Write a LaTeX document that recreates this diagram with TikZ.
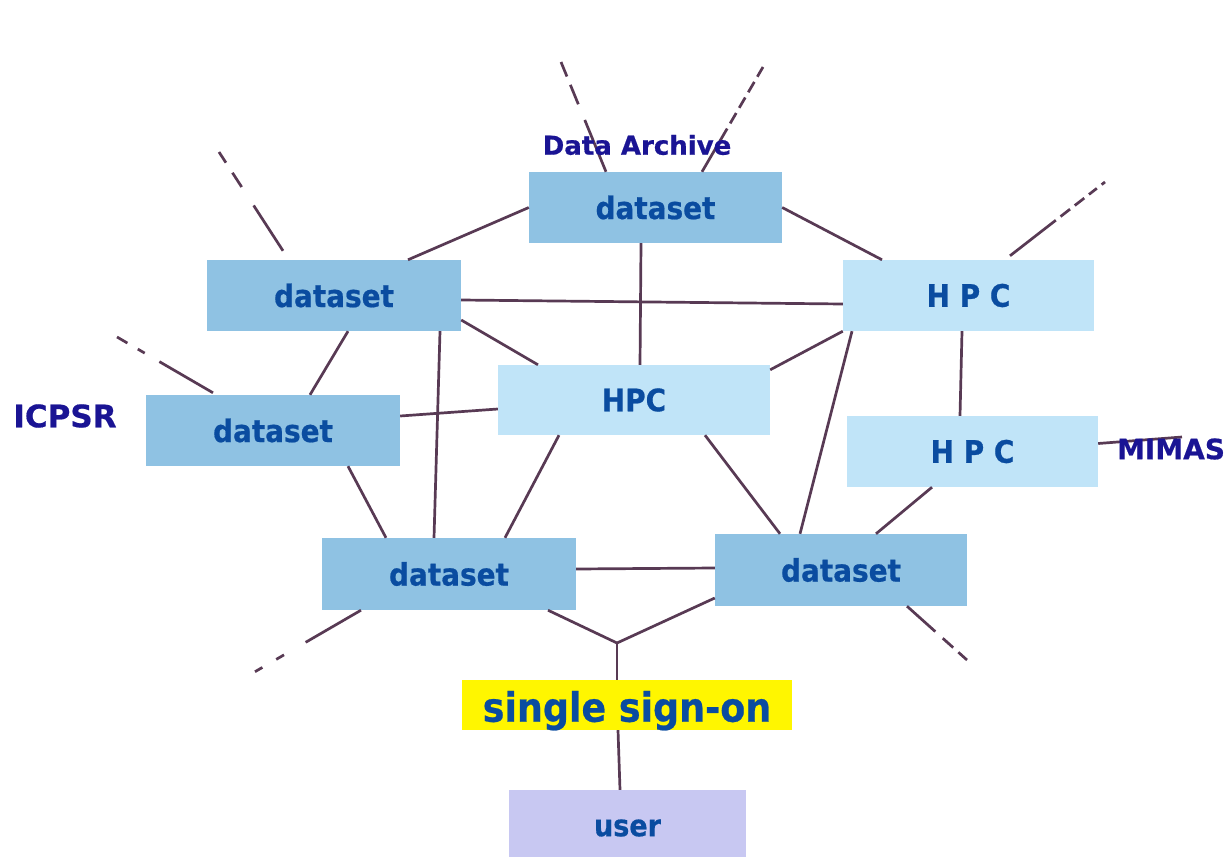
\documentclass[tikz,border=0pt]{standalone}
\usepackage{fontspec}
\newfontfamily\boxfont{DejaVu Sans}[FakeStretch=0.9, FakeBold=0.6]
\newfontfamily\lblfont{DejaVu Sans}[FakeBold=0.6]
\usepackage{tikz}

\definecolor{dsblue}{RGB}{143,194,227}
\definecolor{hpcblue}{RGB}{192,228,248}
\definecolor{txtblue}{RGB}{10,76,160}
\definecolor{navy}{RGB}{26,20,148}
\definecolor{ssoyellow}{RGB}{255,246,0}
\definecolor{userlilac}{RGB}{200,200,242}
\definecolor{linkcol}{RGB}{88,58,84}

\begin{document}
\begin{tikzpicture}[
    x=1pt, y=-1pt,
    box/.style={rectangle, inner sep=0pt, minimum height=71pt, text=txtblue, font=\boxfont\bfseries\fontsize{31}{31}\selectfont},
    dset/.style={box, fill=dsblue, minimum width=254pt},
    hpc/.style={box, fill=hpcblue, minimum width=251pt},
    lbl/.style={inner sep=0pt, text=navy, font=\lblfont\bfseries\fontsize{26}{26}\selectfont},
    link/.style={draw=linkcol, line width=2.7pt},
    stub/.style={link, dash pattern=#1}
]
\useasboundingbox (0,0) rectangle (1225,856);
\fill[white] (0,0) rectangle (1225,856);

% boxes
\node[dset, minimum width=253pt] (DA) at (655.5,207.5) {dataset};
\node[dset] (D1) at (334,295.5) {dataset};
\node[hpc] (H1) at (968.5,295.5) {H P C};
\node[hpc, minimum width=272pt, minimum height=70pt] (H0) at (634,400) {HPC};
\node[dset] (D2) at (273,430.5) {dataset};
\node[hpc] (H2) at (972.5,451.5) {H P C};
\node[dset, minimum height=72pt] (D3) at (449,574) {dataset};
\node[dset, minimum width=252pt, minimum height=72pt] (D4) at (841,570) {dataset};
\node[box, fill=ssoyellow, minimum width=330pt, minimum height=50pt, text height=41.7pt, text depth=8.3pt,
      font=\boxfont\bfseries\fontsize{40.5}{40.5}\selectfont] (SSO) at (627,705) {single sign-on};
\node[box, fill=userlilac, minimum width=237pt, minimum height=76pt,
      font=\boxfont\bfseries\fontsize{30}{30}\selectfont] (U) at (627.5,828) {user};

% loose ends
\coordinate (J) at (617,643);
\coordinate (e1) at (561,62);
\coordinate (e2) at (763,67);
\coordinate (e3) at (219,152);
\coordinate (e4) at (1105,182);
\coordinate (e5) at (117,337);
\coordinate (e6) at (1182,437);
\coordinate (e7) at (255,671.7);
\coordinate (e8) at (967,660);

% links
\draw[link] (DA.west) -- ([xshift=74pt]D1.north);
\draw[link] (DA.east) -- ([xshift=-86.5pt]H1.north);
\draw[link] ([xshift=-14.5pt]DA.south) -- ([xshift=6pt]H0.north);
\draw[link] ([yshift=-4.5pt]D1.east) -- ([yshift=-8.5pt]H1.west);
\draw[link] ([yshift=-24.5pt]D1.east) -- ([xshift=-96pt]H0.north);
\draw[link] ([xshift=14pt]D1.south) -- ([xshift=37pt]D2.north);
\draw[link] ([xshift=106pt]D1.south) -- ([xshift=-15pt]D3.north);
\draw[link] (H1.south west) -- ([yshift=-5pt]H0.north east);
\draw[link] ([xshift=-6.5pt]H1.south) -- ([xshift=-12.5pt]H2.north);
\draw[link] ([xshift=-116.5pt]H1.south) -- ([xshift=-41pt]D4.north);
\draw[link] ([yshift=14.5pt]D2.east) -- ([yshift=-9pt]H0.west);
\draw[link] ([xshift=75pt]D2.south) -- ([xshift=-63pt]D3.north);
\draw[link] ([xshift=-75pt]H0.south) -- ([xshift=56pt]D3.north);
\draw[link] ([xshift=71pt]H0.south) -- ([xshift=-61pt]D4.north);
\draw[link] ([xshift=-40.5pt]H2.south) -- ([xshift=35pt]D4.north);
\draw[link] ([yshift=5pt]D3.east) -- ([yshift=2pt]D4.west);
\draw[link] ([xshift=99pt]D3.south) -- (J);
\draw[link] ([yshift=-28pt]D4.west) -- (J);
\draw[link] (J) -- ([xshift=-10pt]SSO.north);
\draw[link] ([xshift=-9pt]SSO.south) -- ([xshift=-7.5pt]U.north);

% links to the rest of the network
\draw[stub={on 56pt off 17pt on 21pt off 9pt on 20pt}] ([xshift=-49.5pt]DA.north) -- (e1);
\draw[stub={on 50pt off 6pt on 12pt off 6pt on 12pt off 6pt on 12pt off 6pt on 12pt}] ([xshift=46.5pt]DA.north) -- (e2);
\draw[stub={on 54pt off 22pt on 17pt off 12pt on 14pt}] ([xshift=-51pt,yshift=9pt]D1.north) -- (e3);
\draw[stub={on 58pt off 6pt on 12pt off 6pt on 12pt off 6pt on 10pt off 6pt on 10pt}] ([xshift=41.5pt,yshift=4pt]H1.north) -- (e4);
\draw[stub={on 62pt off 17pt on 8pt off 12pt on 13pt}] ([xshift=-60pt,yshift=2pt]D2.north) -- (e5);
\draw[link] ([yshift=8pt]H2.east) -- (e6);
\draw[stub={on 64pt off 25pt on 9pt off 16pt on 10pt}] ([xshift=-88pt]D3.south) -- (e7);
\draw[stub={on 38pt off 10pt on 14pt off 7pt on 12pt}] ([xshift=66pt]D4.south) -- (e8);

% site names
\node[lbl] (archive) at (637,145) {Data Archive};
\node[lbl, font=\lblfont\bfseries\fontsize{31}{31}\selectfont] (icpsr) at (65,416) {ICPSR};
\node[lbl, font=\lblfont\bfseries\fontsize{28}{28}\selectfont] (mimas) at (1171,449) {MIMAS};

\end{tikzpicture}
\end{document}
